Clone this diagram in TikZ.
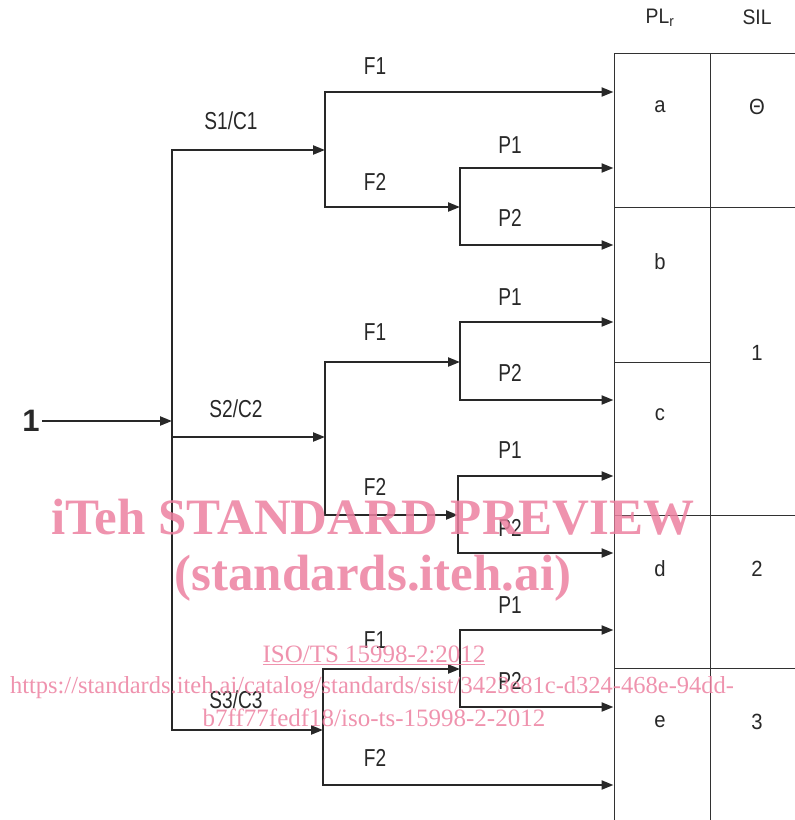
\documentclass[tikz,border=0pt]{standalone}
\usepackage{fontspec}
\setmainfont{Liberation Sans}
\newfontfamily\lblfont[FakeStretch=0.78]{Liberation Sans}
\newfontfamily\cellfont[FakeStretch=0.92]{Liberation Sans}
\newfontfamily\wmfont{Liberation Serif}
\usetikzlibrary{positioning,arrows.meta,calc}
\definecolor{wireclr}{RGB}{40,40,40}
\definecolor{gridclr}{RGB}{50,50,50}
\definecolor{wmpink}{RGB}{236,128,160}
\tikzset{
  wire/.style={line width=2.2pt, draw=wireclr, line cap=rect},
  flow/.style={wire, -{Triangle[length=12pt,width=9pt]}},
  cell/.style={draw=gridclr, line width=1pt, minimum width=96pt, inner sep=0pt},
  silcell/.style={cell, minimum width=94pt},
  lbl/.style={font=\lblfont\fontsize{24.5}{26}\selectfont, text=wireclr, inner sep=0pt},
  cellval/.style={lbl, font=\cellfont\fontsize{22}{24}\selectfont},
  hdr/.style={lbl, font=\cellfont\fontsize{21}{23}\selectfont},
  src/.style={font=\bfseries\fontsize{31}{31}\selectfont, text=wireclr, inner sep=3pt},
  wm/.style={text=wmpink, opacity=0.85, inner sep=0pt},
  wmbig/.style={wm, font=\wmfont\bfseries\fontsize{51}{53}\selectfont},
  wmsmall/.style={wm, font=\wmfont\fontsize{25}{27}\selectfont}
}
\begin{document}
\begin{tikzpicture}[x=1pt, y=-1pt]
\useasboundingbox (0,0) rectangle (795,820);
% PL_r / SIL table
\node[cell, minimum height=154pt] (a) at (662,130) {};
\node[cell, minimum height=155pt] (b) at (662,284.5) {};
\node[cell, minimum height=153pt] (c) at (662,438.5) {};
\node[cell, minimum height=153pt] (d) at (662,591.5) {};
\node[cell, minimum height=162pt] (e) at (662,749) {};
\node[silcell, minimum height=154pt] (s0) at (757,130) {};
\node[silcell, minimum height=308pt] (s1) at (757,361) {};
\node[silcell, minimum height=153pt] (s2) at (757,591.5) {};
\node[silcell, minimum height=162pt] (s3) at (757,749) {};
\node[hdr] (plr) at ($(a.north)+(-2,-35)$) {PL\textsubscript{r}};
\node[hdr] (sil) at ($(s0.north)+(0,-35)$) {SIL};
\node[cellval] (la) at ($(a.north)+(-2,54)$) {a};
\node[cellval] (lb) at ($(b.north)+(-2,55)$) {b};
\node[cellval] (lc) at ($(c.north)+(-2,53)$) {c};
\node[cellval] (ld) at ($(d.north)+(-2,54)$) {d};
\node[cellval] (le) at ($(e.north)+(-2,54)$) {e};
\node[cellval] (ls0) at ($(s0.north)+(0,54)$) {Θ};
\node[cellval] (ls1) at ($(s1.north)+(0,146)$) {1};
\node[cellval] (ls2) at ($(s2.north)+(0,54)$) {2};
\node[cellval] (ls3) at ($(s3.north)+(0,54)$) {3};
% input and trunk
\node[src] (in) at (31,421) {1};
\coordinate (j0) at (172,421);
\coordinate (t1) at (172,150);
\coordinate (t2) at (172,437);
\coordinate (t3) at (172,730);
\draw[flow] (in) -- (j0);
\draw[wire] (t1) -- (t3);
% S1/C1 branch
\coordinate (b1) at (325,150);
\coordinate (b1f1) at (325,92);
\coordinate (b1f2) at (325,207);
\coordinate (b1k) at (460,207);
\coordinate (b1p1) at (460,168);
\coordinate (b1p2) at (460,245);
\draw[flow] (t1) -- (b1);
\draw[wire] (b1f1) -- (b1f2);
\draw[flow] (b1f1) -- (b1f1 -| a.west);
\draw[flow] (b1f2) -- (b1k);
\draw[wire] (b1p1) -- (b1p2);
\draw[flow] (b1p1) -- (b1p1 -| a.west);
\draw[flow] (b1p2) -- (b1p2 -| a.west);
% S2/C2 branch
\coordinate (b2) at (325,437);
\coordinate (b2f1) at (325,362);
\coordinate (b2f2) at (325,515);
\coordinate (b2k1) at (460,362);
\coordinate (b2k1p1) at (460,322);
\coordinate (b2k1p2) at (460,400);
\coordinate (b2k2) at (458,515);
\coordinate (b2k2p1) at (458,476);
\coordinate (b2k2p2) at (458,553);
\draw[flow] (t2) -- (b2);
\draw[wire] (b2f1) -- (b2f2);
\draw[flow] (b2f1) -- (b2k1);
\draw[flow] (b2f2) -- (b2k2);
\draw[wire] (b2k1p1) -- (b2k1p2);
\draw[flow] (b2k1p1) -- (b2k1p1 -| a.west);
\draw[flow] (b2k1p2) -- (b2k1p2 -| a.west);
\draw[wire] (b2k2p1) -- (b2k2p2);
\draw[flow] (b2k2p1) -- (b2k2p1 -| a.west);
\draw[flow] (b2k2p2) -- (b2k2p2 -| a.west);
% S3/C3 branch
\coordinate (b3) at (323,730);
\coordinate (b3f1) at (323,669);
\coordinate (b3f2) at (323,785);
\coordinate (b3k) at (460,669);
\coordinate (b3p1) at (460,630);
\coordinate (b3p2) at (460,707);
\draw[flow] (t3) -- (b3);
\draw[wire] (b3f1) -- (b3f2);
\draw[flow] (b3f1) -- (b3k);
\draw[flow] (b3f2) -- (b3f2 -| a.west);
\draw[wire] (b3p1) -- (b3p2);
\draw[flow] (b3p1) -- (b3p1 -| a.west);
\draw[flow] (b3p2) -- (b3p2 -| a.west);
% branch labels
\node[lbl] (ls1c1) at (231,121) {S1/C1};
\node[lbl] (ls2c2) at (236,409) {S2/C2};
\node[lbl] (ls3c3) at (236,700) {S3/C3};
\node[lbl] (lf11) at (375,66) {F1};
\node[lbl] (lf12) at (375,182) {F2};
\node[lbl] (lp11) at (510,145) {P1};
\node[lbl] (lp12) at (510,218) {P2};
\node[lbl] (lf21) at (375,332) {F1};
\node[lbl] (lp21) at (510,297) {P1};
\node[lbl] (lp22) at (510,373) {P2};
\node[lbl] (lf22) at (375,487) {F2};
\node[lbl] (lp23) at (510,450) {P1};
\node[lbl] (lp24) at (510,528) {P2};
\node[lbl] (lf31) at (375,640) {F1};
\node[lbl] (lp31) at (510,605) {P1};
\node[lbl] (lp32) at (510,681) {P2};
\node[lbl] (lf32) at (375,758) {F2};
% watermark
\node[wmbig] (wm1) at (373,517) {iTeh STANDARD PREVIEW};
\node[wmbig] (wm2) at (373,578) {(standards.iteh.ai)};
\node[wmsmall] (wm3) at (374,655) {\underline{ISO/TS 15998-2:2012}};
\node[wmsmall, font=\wmfont\fontsize{24.5}{27}\selectfont] (wm4) at (372,688) {https://standards.iteh.ai/catalog/standards/sist/3423e81c-d324-468e-94dd-};
\node[wmsmall] (wm5) at (374,718) {b7ff77fedf18/iso-ts-15998-2-2012};
\end{tikzpicture}
\end{document}
